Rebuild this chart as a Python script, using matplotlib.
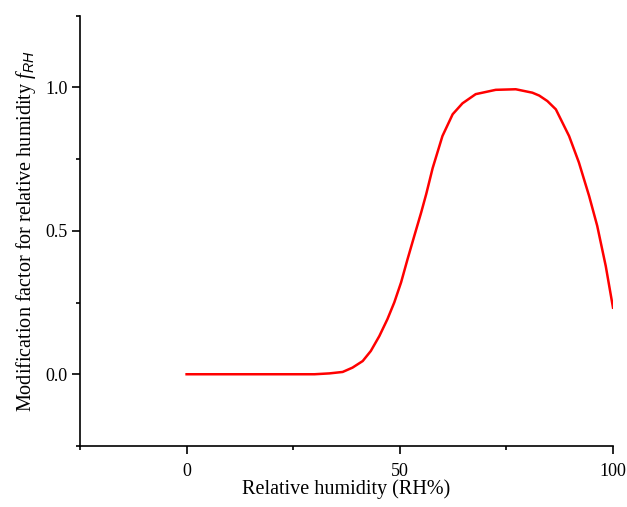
import numpy as np
import matplotlib
matplotlib.use("Agg")
import matplotlib.pyplot as plt
from matplotlib.ticker import MultipleLocator

plt.rcParams['font.family'] = ['Liberation Serif', 'DejaVu Serif']
plt.rcParams['mathtext.fontset'] = 'custom'
plt.rcParams['mathtext.rm'] = 'Liberation Serif'
plt.rcParams['mathtext.it'] = 'Liberation Serif:italic'
plt.rcParams['mathtext.sf'] = 'Liberation Sans:italic'

# --- values ---
rh = [0, 10, 20, 30, 33.5, 36.6, 38.9, 41.3, 43.2, 45.2, 47.1, 48.7, 50.3, 51.8,
      53.4, 55.0, 56.2, 57.7, 60.0, 62.4, 64.7, 67.8, 72.5, 77.2, 81.1, 82.7,
      84.6, 86.6, 89.7, 92.0, 94.4, 96.3, 98.3, 100]
f_rh = [0, 0, 0, 0, 0.003, 0.008, 0.023, 0.046, 0.081, 0.133, 0.192, 0.25, 0.32, 0.40,
        0.482, 0.563, 0.628, 0.718, 0.83, 0.906, 0.944, 0.976, 0.991, 0.993, 0.981, 0.971,
        0.952, 0.923, 0.83, 0.738, 0.621, 0.517, 0.377, 0.232]

fig = plt.figure(figsize=(6.27, 5.07), dpi=100)
ax = fig.add_axes([80 / 627, 1 - 446 / 507, (613 - 80) / 627, (446 - 15.5) / 507])

ax.plot(rh, f_rh, color='#ff0000', lw=1.8, solid_joinstyle='round')

ax.set_xlim(-25, 100)
ax.set_ylim(-0.25, 1.25)
ax.spines['top'].set_visible(False)
ax.spines['right'].set_visible(False)
for s in ['left', 'bottom']:
    ax.spines[s].set_linewidth(1.2)

ax.xaxis.set_minor_locator(MultipleLocator(25))
ax.yaxis.set_minor_locator(MultipleLocator(0.25))
ax.set_yticks([0, 0.5, 1.0])
ax.set_yticklabels(['0.0', '0.5', '1.0'])
ax.set_xticks([0, 50, 100])

ax.tick_params(which='major', direction='out', length=6, width=1.2, labelsize=13)
ax.tick_params(which='minor', direction='out', length=3, width=1.2)
ax.tick_params(axis='x', which='major', pad=6)
ax.tick_params(axis='y', which='major', pad=3)

ax.set_xlabel('Relative humidity (RH%)', fontsize=14.5, labelpad=0)
ax.set_ylabel(r'Modification factor for relative humidity $\mathit{f}_{\mathsf{RH}}$',
              fontsize=14.5, labelpad=5)

fig.savefig('out.png', dpi=100)
